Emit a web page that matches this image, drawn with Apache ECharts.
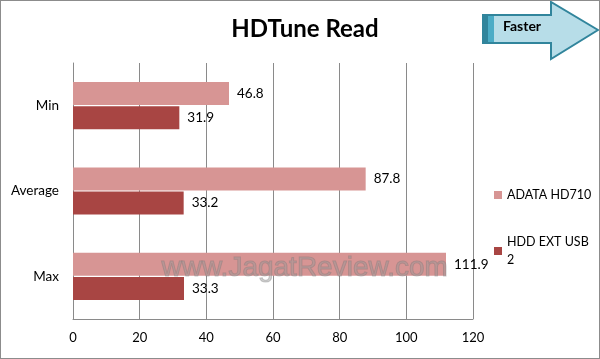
<!DOCTYPE html>
<html><head><meta charset="utf-8">
<script src="https://cdn.jsdelivr.net/npm/echarts@6/dist/echarts.min.js"></script>
<style>html,body{margin:0;padding:0;background:#fff}#c{width:600px;height:359px;box-sizing:border-box;border:1px solid #8c8c8c}</style>
</head><body><div id="c"></div>
<script>
const categories = ['Min', 'Average', 'Max'];
const seriesNames = ['ADATA HD710', 'HDD EXT USB 2'];
const adataValues = [46.8, 87.8, 111.9];
const hddValues = [31.9, 33.2, 33.3];
const xTicks = [0, 20, 40, 60, 80, 100, 120];

const chart = echarts.init(document.getElementById('c'));
const font = 'Lato, "Open Sans", sans-serif';
chart.setOption({
  animation: false,
  textStyle: {fontFamily: font},
  title: {text: 'HDTune Read', left: 299, top: 11, textAlign: 'center',
    textStyle: {fontFamily: font, fontSize: 24, fontWeight: 'bold', color: '#000'}},
  grid: {left: 72, right: 126, top: 62, bottom: 39},
  legend: {orient: 'vertical', left: 488, top: 180, itemWidth: 8, itemHeight: 8, itemGap: 29,
    icon: 'rect',
    textStyle: {fontFamily: font, fontSize: 12.5, color: '#000', width: 92, overflow: 'break', lineHeight: 18},
    data: seriesNames},
  xAxis: {type: 'value', min: xTicks[0], max: xTicks[xTicks.length - 1], interval: 20,
    axisLine: {show: true, lineStyle: {color: '#8a8a8a'}},
    axisTick: {show: false},
    axisLabel: {color: '#000', fontSize: 13, margin: 12, fontFamily: font},
    splitLine: {show: true, lineStyle: {color: '#8a8a8a', width: 1}}},
  yAxis: {type: 'category', data: categories, inverse: true,
    axisLine: {show: true, lineStyle: {color: '#8a8a8a'}},
    axisTick: {show: false},
    axisLabel: {color: '#000', fontSize: 13.5, margin: 14, fontFamily: font}},
  series: [
    {name: seriesNames[0], type: 'bar', data: adataValues, barWidth: 23, barGap: '5%',
      itemStyle: {color: '#D79594'},
      label: {show: true, position: 'right', distance: 8, color: '#000', fontSize: 13.5, fontFamily: font}},
    {name: seriesNames[1], type: 'bar', data: hddValues, barWidth: 23,
      itemStyle: {color: '#A84543'},
      label: {show: true, position: 'right', distance: 8, color: '#000', fontSize: 13.5, fontFamily: font}}
  ],
  graphic: [
    {type: 'polygon', shape: {points: [[482,14],[550,14],[550,1],[597,29],[550,58],[550,42],[482,42]]},
      style: {fill: '#B7DDE8', stroke: '#31859C', lineWidth: 2}},
    {type: 'rect', shape: {x: 483, y: 15, width: 4, height: 26}, style: {fill: '#31859C'}},
    {type: 'rect', shape: {x: 487, y: 15, width: 6, height: 26}, style: {fill: '#4BACC6'}},
    {type: 'text', left: 502, top: 18, style: {text: 'Faster', fill: '#000', font: 'bold 14px ' + font}},
    {type: 'text', left: 160, top: 253, z: 100, style: {text: 'www.JagatReview.com', fill: 'rgba(150,150,150,0.45)',
      stroke: 'rgba(110,110,110,0.35)', lineWidth: 1, font: '28px "Liberation Sans", sans-serif'}}
  ]
});
</script></body></html>
